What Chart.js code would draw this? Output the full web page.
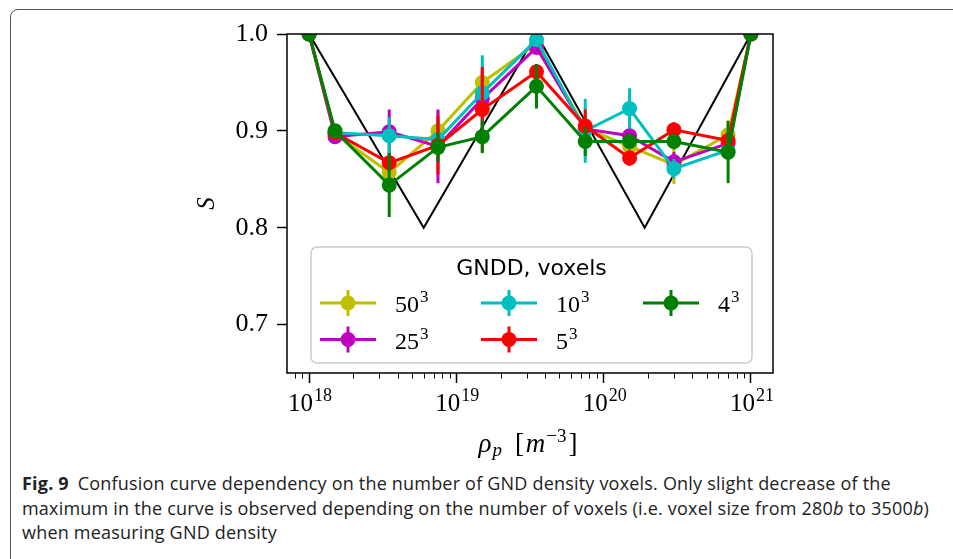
<!DOCTYPE html>
<html lang="en">
<head>
<meta charset="UTF-8">
<title>Fig. 9 - Confusion curve vs GND density voxels</title>
<script src="https://cdn.jsdelivr.net/npm/chart.js"></script>
<style>
  body { margin: 0; background: #fff; width: 953px; height: 559px; overflow: hidden; position: relative; }
  .frame { position: absolute; left: 10px; top: 9px; width: 980px; height: 600px; border: 1px solid #555; border-radius: 8px; }
  #chart { position: absolute; left: 0; top: 0; }
  .caption { position: absolute; left: 22px; top: 471px; font: 18px "Open Sans", sans-serif; letter-spacing: 0.2px; line-height: 24.5px; color: #222; white-space: nowrap; }
  .caption b { font-weight: 700; margin-right: 4px; }
</style>
</head>
<body>
  <div class="frame"></div>
  <canvas id="chart" width="953" height="460"></canvas>
  <div class="caption">
    <b>Fig. 9</b> Confusion curve dependency on the number of GND density voxels. Only slight decrease of the<br>
    maximum in the curve is observed depending on the number of voxels (i.e. voxel size from 280<i>b</i> to 3500<i>b</i>)<br>
    when measuring GND density
  </div>

  <script>
    // density values (m^-3) where the curves were sampled
    const rho = [1e18, 1.5e18, 3.5e18, 7.5e18, 1.5e19, 3.5e19, 7.5e19, 1.5e20, 3e20, 7e20, 1e21];

    // S values for each voxel count
    const s50 = [1.0, 0.897, 0.857, 0.900, 0.950, 0.990, 0.903, 0.884, 0.865, 0.896, 1.0];
    const s25 = [1.0, 0.894, 0.899, 0.884, 0.933, 0.986, 0.902, 0.895, 0.868, 0.887, 1.0];
    const s10 = [1.0, 0.898, 0.895, 0.891, 0.939, 0.994, 0.900, 0.923, 0.861, 0.880, 1.0];
    const s5  = [1.0, 0.898, 0.867, 0.885, 0.922, 0.961, 0.905, 0.872, 0.901, 0.890, 1.0];
    const s4  = [1.0, 0.900, 0.844, 0.883, 0.894, 0.946, 0.889, 0.889, 0.889, 0.878, 1.0];

    // error bar half lengths
    const e50 = [0, 0.004, 0.010, 0.020, 0.010, 0.005, 0.010, 0.010, 0.020, 0.015, 0];
    const e25 = [0, 0.005, 0.023, 0.038, 0.030, 0.005, 0.010, 0.010, 0.010, 0.010, 0];
    const e10 = [0, 0.005, 0.019, 0.020, 0.039, 0.005, 0.033, 0.021, 0.010, 0.010, 0];
    const e5  = [0, 0.005, 0.010, 0.030, 0.044, 0.008, 0.017, 0.008, 0.008, 0.010, 0];
    const e4  = [0, 0.006, 0.033, 0.015, 0.017, 0.023, 0.015, 0.008, 0.008, 0.032, 0];

    // legend names: voxel edge count, cubed
    const voxelEdge = ['50', '25', '10', '5', '4'];
    const seriesNames = voxelEdge.map(n => n + '³');

    // black reference curve
    const refRho = [1e18, 6e18, 3.5e19, 1.9e20, 1e21];
    const refS = [1.0, 0.8, 1.0, 0.8, 1.0];

    const yTicks = [0.7, 0.8, 0.9, 1.0];
    const xTicks = [1e18, 1e19, 1e20, 1e21];

    const colors = ['#bfbf00', '#bf00bf', '#00bfbf', '#ff0000', '#008000'];
    const allS = [s50, s25, s10, s5, s4];
    const allErr = [e50, e25, e10, e5, e4];

    const SERIF = '"Liberation Serif", "DejaVu Serif", serif';

    const datasets = [{
      label: 'ref',
      data: refRho.map((x, i) => ({ x: x, y: refS[i] })),
      borderColor: '#000',
      borderWidth: 2,
      pointRadius: 0,
      tension: 0,
      clip: 0,
      order: 10
    }];
    seriesNames.forEach((name, k) => {
      datasets.push({
        label: name,
        data: rho.map((x, i) => ({ x: x, y: allS[k][i] })),
        errors: allErr[k],
        borderColor: colors[k],
        backgroundColor: colors[k],
        pointBackgroundColor: colors[k],
        pointBorderWidth: 0,
        pointRadius: 7.5,
        borderWidth: 3,
        tension: 0,
        clip: 0,
        order: 4 - k   // green drawn last, like matplotlib
      });
    });

    // draws a row of text pieces (base, sub/superscripts) centred on cx
    function drawRuns(ctx, runs, cx, baseY) {
      let total = 0;
      runs.forEach(r => { ctx.font = r.font; r.w = ctx.measureText(r.text).width; total += r.w + (r.gap || 0); });
      let x = cx - total / 2;
      ctx.textAlign = 'left';
      ctx.textBaseline = 'alphabetic';
      runs.forEach(r => {
        x += r.gap || 0;
        ctx.font = r.font;
        ctx.fillText(r.text, x, baseY + (r.dy || 0));
        x += r.w;
      });
    }

    // vertical error bars, drawn just before each dataset's own line
    const errorBars = {
      id: 'errorBars',
      beforeDatasetDraw(chart, args) {
        const ds = chart.data.datasets[args.index];
        if (!ds.errors) return;
        const { ctx, chartArea: a, scales: { x, y } } = chart;
        ctx.save();
        ctx.beginPath();
        ctx.rect(a.left, a.top, a.right - a.left, a.bottom - a.top);
        ctx.clip();
        ctx.strokeStyle = ds.borderColor;
        ctx.lineWidth = 3;
        ds.data.forEach((p, i) => {
          const e = ds.errors[i];
          if (!e) return;
          const px = x.getPixelForValue(p.x);
          ctx.beginPath();
          ctx.moveTo(px, y.getPixelForValue(p.y - e));
          ctx.lineTo(px, y.getPixelForValue(p.y + e));
          ctx.stroke();
        });
        ctx.restore();
      }
    };

    // box spines, minor log ticks, 10^n labels and the x title
    const frame = {
      id: 'frame',
      afterDatasetsDraw(chart) {
        const { ctx, chartArea: a, scales: { x } } = chart;
        ctx.save();
        ctx.strokeStyle = '#000';
        ctx.lineWidth = 1.5;
        ctx.strokeRect(a.left, a.top, a.right - a.left, a.bottom - a.top);
        ctx.lineWidth = 1;
        for (let d = 17; d <= 21; d++) {
          for (let m = 2; m <= 9; m++) {
            const v = m * Math.pow(10, d);
            if (v < x.min || v > x.max) continue;
            const px = Math.round(x.getPixelForValue(v)) + 0.5;
            ctx.beginPath();
            ctx.moveTo(px, a.bottom);
            ctx.lineTo(px, a.bottom + 5.5);
            ctx.stroke();
          }
        }

        ctx.fillStyle = '#000';
        xTicks.forEach(v => {
          const exp = String(Math.round(Math.log10(v)));
          drawRuns(ctx, [
            { text: '10', font: '25px ' + SERIF },
            { text: exp, font: '18px ' + SERIF, dy: -10, gap: 1 }
          ], x.getPixelForValue(v) + 1, 411);
        });

        drawRuns(ctx, [
          { text: 'ρ', font: 'italic 27px ' + SERIF },
          { text: 'p', font: 'italic 19px ' + SERIF, dy: 4, gap: 1 },
          { text: '[', font: '27px ' + SERIF, gap: 13 },
          { text: 'm', font: 'italic 27px ' + SERIF, gap: 2 },
          { text: '−3', font: '19px ' + SERIF, dy: -10, gap: 1 },
          { text: ']', font: '27px ' + SERIF, gap: 2 }
        ], 528, 452);
        ctx.restore();
      }
    };

    // legend in the lower part of the axes, three columns
    const boxLegend = {
      id: 'boxLegend',
      afterDraw(chart) {
        const ctx = chart.ctx;
        ctx.save();
        const bx = 311, by = 247, bw = 441, bh = 116;
        ctx.beginPath();
        ctx.roundRect(bx, by, bw, bh, 6);
        ctx.fillStyle = 'rgba(255,255,255,0.8)';
        ctx.fill();
        ctx.strokeStyle = '#cccccc';
        ctx.lineWidth = 1.5;
        ctx.stroke();

        ctx.fillStyle = '#000';
        ctx.font = '22px "DejaVu Sans"';
        ctx.textAlign = 'center';
        ctx.textBaseline = 'middle';
        ctx.fillText('GNDD, voxels', bx + bw / 2, 269);

        const cols = [320, 481, 643];
        const rows = [303, 339.5];
        voxelEdge.forEach((edge, k) => {
          const col = Math.floor(k / 2), row = k % 2;
          const x0 = cols[col], yc = rows[row];
          ctx.strokeStyle = colors[k];
          ctx.fillStyle = colors[k];
          ctx.lineWidth = 3;
          ctx.beginPath();
          ctx.moveTo(x0, yc);
          ctx.lineTo(x0 + 56, yc);
          ctx.moveTo(x0 + 28, yc - 13);
          ctx.lineTo(x0 + 28, yc + 13);
          ctx.stroke();
          ctx.beginPath();
          ctx.arc(x0 + 28, yc, 7.5, 0, Math.PI * 2);
          ctx.fill();

          ctx.fillStyle = '#000';
          ctx.textAlign = 'left';
          ctx.textBaseline = 'alphabetic';
          ctx.font = '24px ' + SERIF;
          const w = ctx.measureText(edge).width;
          ctx.fillText(edge, x0 + 75, yc + 9);
          ctx.font = '17px ' + SERIF;
          ctx.fillText('3', x0 + 76 + w, yc - 1);
        });
        ctx.restore();
      }
    };

    new Chart(document.getElementById('chart'), {
      type: 'line',
      data: { datasets: datasets },
      options: {
        responsive: false,
        animation: false,
        layout: { padding: { left: 0, right: 180, top: 34, bottom: 0 } },
        plugins: { legend: { display: false }, tooltip: { enabled: false } },
        scales: {
          x: {
            type: 'logarithmic',
            min: Math.pow(10, 17.85),
            max: Math.pow(10, 21.15),
            afterBuildTicks: s => { s.ticks = xTicks.map(v => ({ value: v, major: true })); },
            afterFit: s => { s.height = 87; },
            ticks: { display: false, autoSkip: false },
            grid: { drawOnChartArea: false, drawTicks: true, tickLength: 10, tickColor: '#000', tickWidth: 1.5 },
            border: { display: false },
            title: { display: false }
          },
          y: {
            min: 0.65,
            max: 1.0,
            afterBuildTicks: s => { s.ticks = yTicks.map(v => ({ value: v })); },
            afterFit: s => { s.width = 287; },
            ticks: {
              padding: 9,
              color: '#000',
              font: { family: 'Liberation Serif', size: 26 },
              callback: v => Number(v).toFixed(1)
            },
            grid: { drawOnChartArea: false, drawTicks: true, tickLength: 10, tickColor: '#000', tickWidth: 1.5 },
            border: { display: false },
            title: {
              display: true,
              text: 'S',
              color: '#000',
              font: { family: 'Liberation Serif', size: 25, style: 'italic' },
              padding: { top: 192, bottom: 0 }
            }
          }
        }
      },
      plugins: [errorBars, frame, boxLegend]
    });
  </script>
</body>
</html>
